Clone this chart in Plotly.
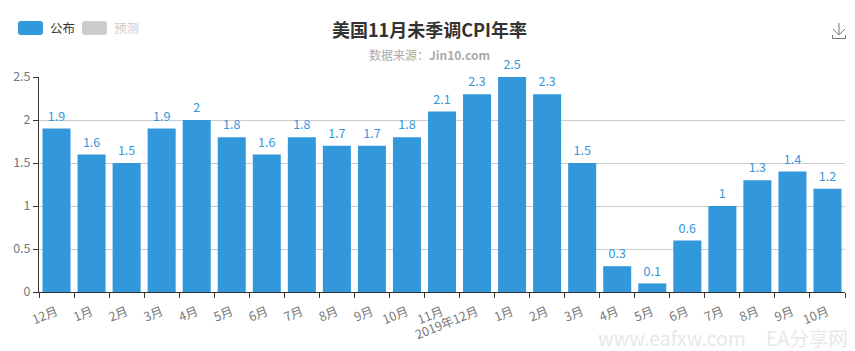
import plotly.graph_objects as go

categories = ["12月","1月","2月","3月","4月","5月","6月","7月","8月","9月","10月","11月","2019年12月",
              "1月","2月","3月","4月","5月","6月","7月","8月","9月","10月"]
published = [1.9,1.6,1.5,1.9,2,1.8,1.6,1.8,1.7,1.7,1.8,2.1,2.3,2.5,2.3,1.5,0.3,0.1,0.6,1,1.3,1.4,1.2]
y_ticks = [0,0.5,1,1.5,2,2.5]
y_labels = ["0","0.5","1","1.5","2","2.5"]

W, H = 855, 351
L, R, T, B = 39, 10, 77, 59
FONT = "Noto Sans CJK SC, Noto Sans, sans-serif"
BLUE = "#3398DB"

def px(x): return (x - L) / (W - L - R)
def py(y): return (H - B - y) / (H - T - B)

idx = list(range(len(categories)))
fig = go.Figure()
fig.add_trace(go.Bar(x=idx, y=published, width=0.8, marker=dict(color=BLUE, line=dict(width=0)),
                     showlegend=False))
fig.add_trace(go.Scatter(x=idx, y=published, mode="markers+text",
                         marker=dict(size=6, opacity=0), text=[str(v) for v in published],
                         textposition="top center", cliponaxis=False,
                         textfont=dict(color=BLUE, size=12.5, family=FONT), showlegend=False))

def rrect(x0, y0, x1, y1, r):
    return (f"M{px(x0+r)},{py(y0)} L{px(x1-r)},{py(y0)} Q{px(x1)},{py(y0)} {px(x1)},{py(y0+r)} "
            f"L{px(x1)},{py(y1-r)} Q{px(x1)},{py(y1)} {px(x1-r)},{py(y1)} "
            f"L{px(x0+r)},{py(y1)} Q{px(x0)},{py(y1)} {px(x0)},{py(y1-r)} "
            f"L{px(x0)},{py(y0+r)} Q{px(x0)},{py(y0)} {px(x0+r)},{py(y0)} Z")

shapes = [
    dict(type="path", xref="paper", yref="paper", path=rrect(18, 21, 43, 35, 3), fillcolor=BLUE, line_width=0),
    dict(type="path", xref="paper", yref="paper", path=rrect(82, 21, 107, 35, 3), fillcolor="#CCCCCC", line_width=0),
    # download icon
    dict(type="path", xref="paper", yref="paper",
         path=f"M{px(839)},{py(23)} L{px(839)},{py(35)} M{px(833)},{py(29)} L{px(839)},{py(35)} L{px(845)},{py(29)} "
              f"M{px(832.5)},{py(35)} L{px(832.5)},{py(38.5)} L{px(845.5)},{py(38.5)} L{px(845.5)},{py(35)}",
         line=dict(color="#777777", width=1)),
]

def note(x, y, text, size, color, anchor="left", **kw):
    return dict(x=px(x), y=py(y), xref="paper", yref="paper", text=text, showarrow=False,
                xanchor=anchor, yanchor="middle", font=dict(size=size, color=color, family=FONT), **kw)

annotations = [
    note(47.5, 27, "公布", 12.5, "#333333"),
    note(111.5, 27, "预测", 12.5, "#CCCCCC"),
    note(429, 29, "<b>美国11月未季调CPI年率</b>", 18, "#333333", "center"),
    note(429, 54, "数据来源：<b>Jin10.com</b>", 12, "#AAAAAA", "center"),
    note(748, 337, "www.eafxw.com", 19.5, "#E8E8E8", "right"),
    note(850, 337, "EA分享网", 19.5, "#E8E8E8", "right"),
]

fig.update_layout(
    width=W, height=H, margin=dict(l=L, r=R, t=T, b=B), autosize=False,
    paper_bgcolor="white", plot_bgcolor="white", bargap=0.2,
    font=dict(family=FONT, size=12, color="#666666"),
    shapes=shapes, annotations=annotations,
    xaxis=dict(range=[-0.5, len(categories) - 0.5], tickvals=idx, ticktext=categories, tickangle=-22,
               ticks="", showgrid=False, zeroline=False, showline=True, linecolor="#333333", linewidth=1,
               automargin=False,
               tickfont=dict(size=12.5, color="#777777", family=FONT), ticklen=5, ticklabelstandoff=7,
               minor=dict(tickvals=[i - 0.5 for i in idx] + [len(categories) - 0.5], ticks="outside",
                          ticklen=5, tickcolor="#333333", tickwidth=1, showgrid=False)),
    yaxis=dict(range=[0, 2.5], tickvals=y_ticks, ticktext=y_labels, ticks="outside", ticklen=5,
               tickcolor="#333333", showline=True, linecolor="#333333", linewidth=1, zeroline=False,
               automargin=False,
               gridcolor="#CCCCCC", gridwidth=1, tickfont=dict(size=12.5, color="#777777", family=FONT)),
)
fig.write_html("out.html", config=dict(displayModeBar=False),
               post_script="document.body.style.margin='0';")
